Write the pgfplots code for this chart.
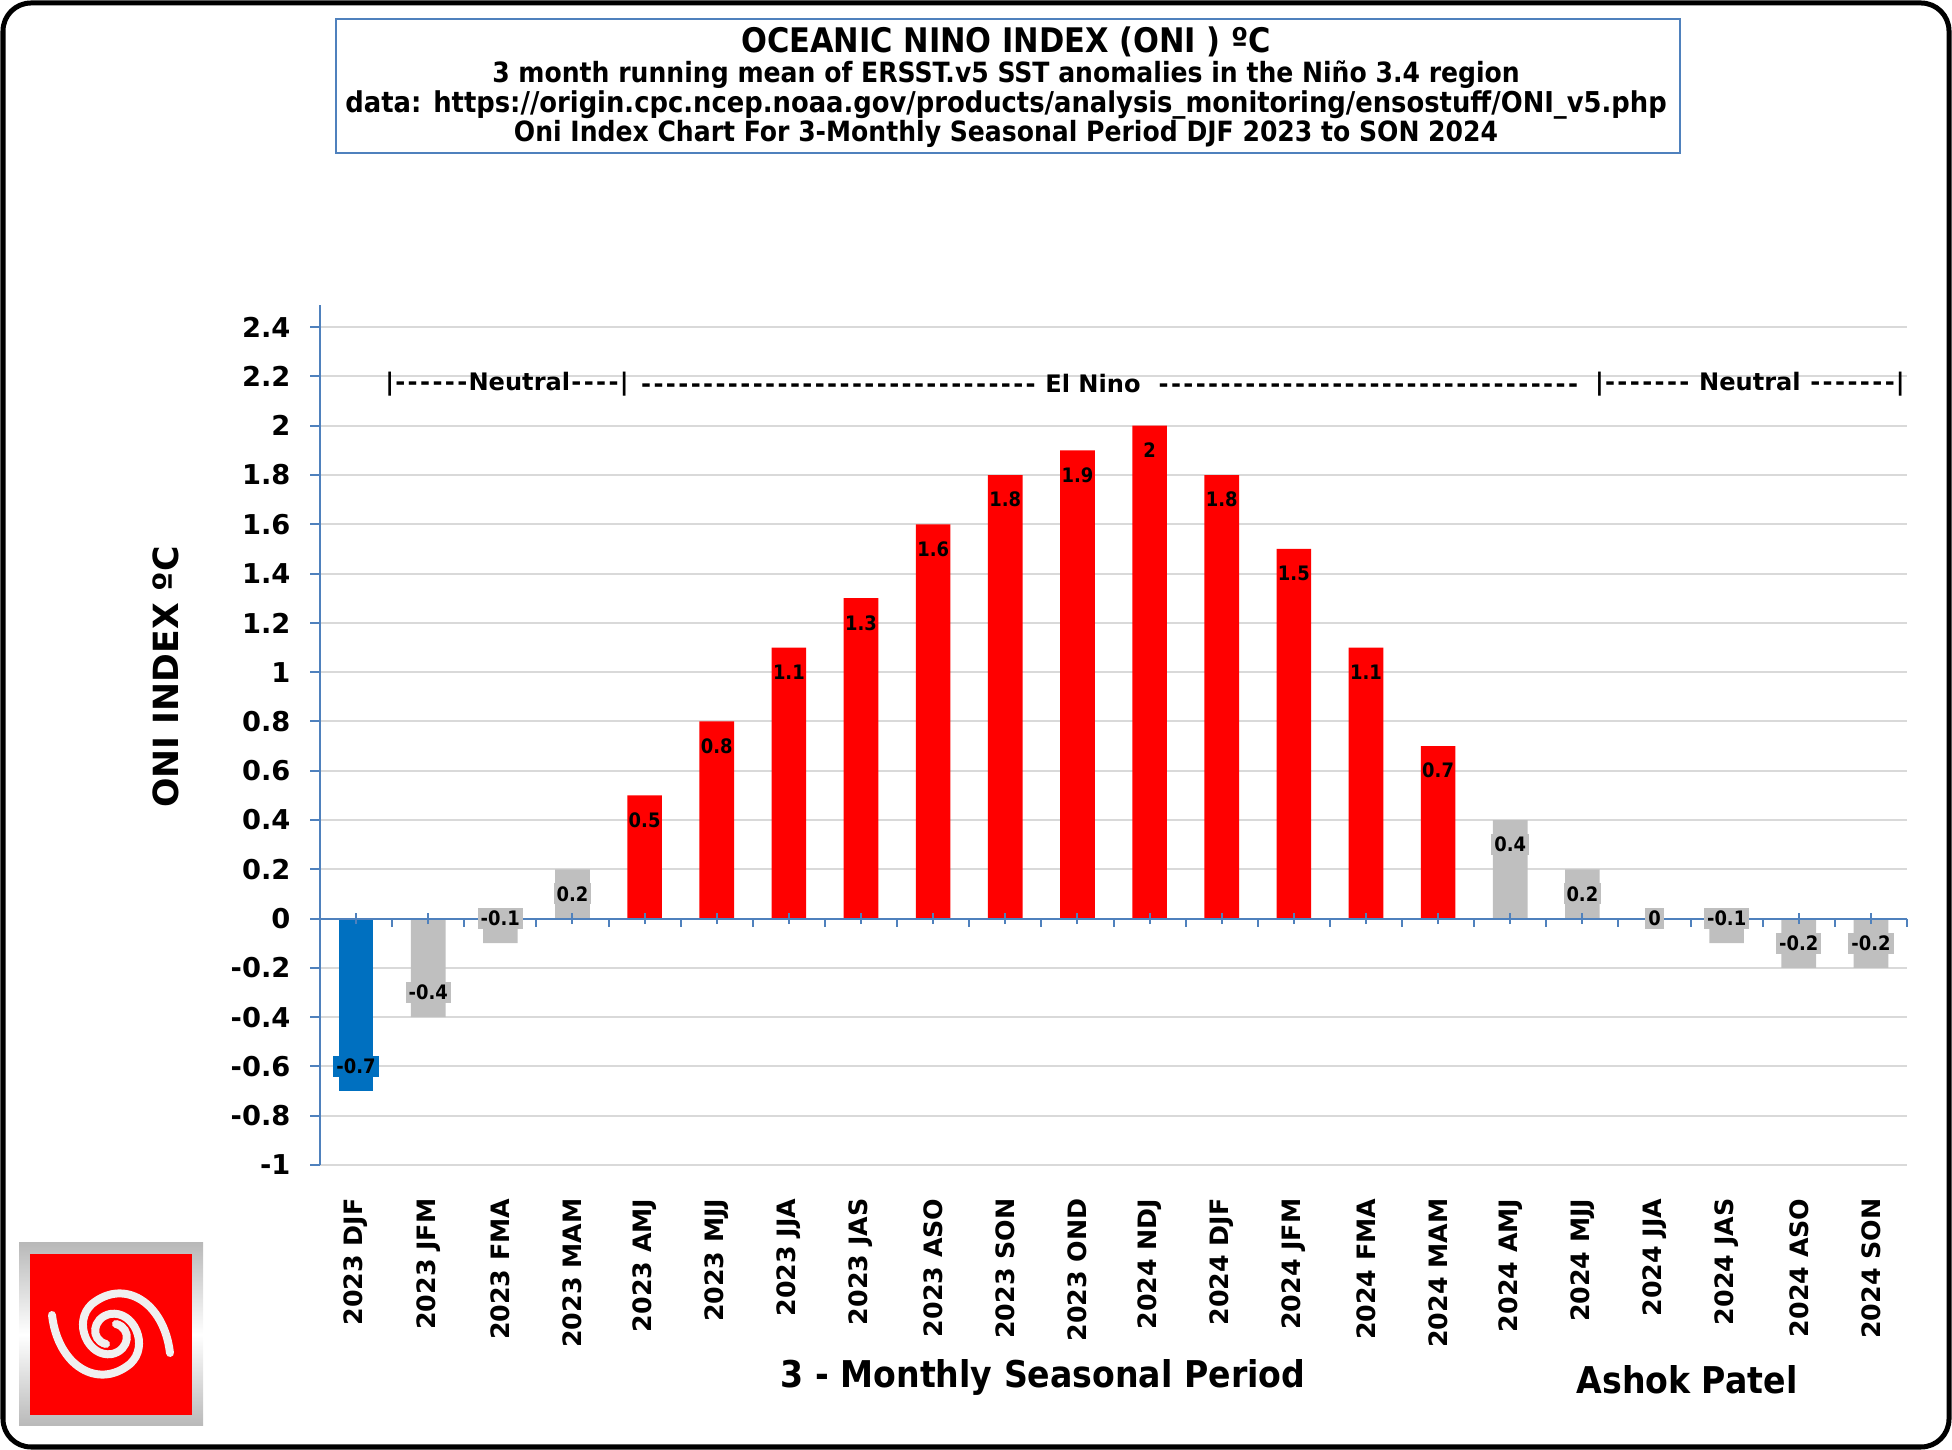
\documentclass[border=0pt]{standalone}
\usepackage{pgfplots}
\pgfplotsset{compat=1.18}
\usepackage{fontspec}
\setmainfont{DejaVu Sans}[Ligatures=TeXOff]
\newfontfamily\cond{DejaVu Sans Condensed}[Ligatures=TeXOff]

\definecolor{oniblue}{RGB}{0,112,192}
\definecolor{onired}{RGB}{255,0,0}
\definecolor{onigrey}{RGB}{191,191,191}
\definecolor{axblue}{RGB}{79,129,189}
\definecolor{gridgrey}{RGB}{217,217,217}

% hyphens with a little air, so the dashed run has Verdana's pitch
\newcommand\dashes[1]{\foreach \k in {1,...,#1}{\kern0.6bp-\kern0.6bp}}

\begin{document}
\begin{tikzpicture}
\useasboundingbox (0,0) rectangle (976bp,725bp);
\draw[line width=2.5bp, rounded corners=14bp] (1.5bp,1.5bp) rectangle (974.5bp,723.5bp);

% title box
\draw[axblue, line width=1bp] (168bp,648.5bp) rectangle (840bp,715.5bp);
\node[font=\cond\bfseries\fontsize{17}{20}\selectfont] at (503bp,704bp) {OCEANIC NINO INDEX (ONI ) ºC};
\node[font=\cond\bfseries\fontsize{14}{16}\selectfont] at (503bp,687.5bp) {3 month running mean of ERSST.v5 SST anomalies in the Niño 3.4 region};
\node[font=\cond\bfseries\fontsize{14.4}{16}\selectfont] at (503bp,672.5bp) {data: https://origin.cpc.ncep.noaa.gov/products/analysis\_monitoring/ensostuff/ONI\_v5.php};
\node[font=\cond\bfseries\fontsize{14}{16}\selectfont] at (503bp,658bp) {Oni Index Chart For 3-Monthly Seasonal Period DJF 2023 to SON 2024};

% axis titles and credit
\node[rotate=90, font=\bfseries\fontsize{17.4}{20}\selectfont] at (83bp,386.5bp) {ONI INDEX ºC};
\node[font=\cond\bfseries\fontsize{18.5}{22}\selectfont] at (521.5bp,36.5bp) {3 - Monthly Seasonal Period};
\node[font=\cond\bfseries\fontsize{18.5}{22}\selectfont] at (843.5bp,35bp) {Ashok Patel};

% logo
\begin{scope}[x=1bp,y=1bp]
\shade[top color=gray!55, bottom color=gray!55, middle color=white] (9.5,12) rectangle (101.5,103.5);
\fill[onired] (15,17.5) rectangle (96,98);
\draw[line width=4, gray!12, line cap=round] (85,48.5) .. controls (82,74) and (62,86) .. (46,73) .. controls (36,64) and (44,46) .. (56,48) .. controls (65,50) and (66,61) .. (58,63);
\draw[line width=4, gray!12, line cap=round] (26,67.5) .. controls (29,42) and (49,30) .. (65,43) .. controls (75,52) and (67,70) .. (55,68) .. controls (46,66) and (45,55) .. (53,53);
\end{scope}

\begin{axis}[
  at={(160bp,142.5bp)}, anchor=south west,
  scale only axis, width=793.5bp, height=430bp,
  xmin=-0.5, xmax=21.5, ymin=-1, ymax=2.49,
  axis y line*=left, axis x line*=bottom,
  x axis line style={draw=none},
  y axis line style={axblue, line width=1bp},
  xtick={0,...,21},
  xticklabels={2023 DJF,2023 JFM,2023 FMA,2023 MAM,2023 AMJ,2023 MJJ,2023 JJA,2023 JAS,2023 ASO,2023 SON,2023 OND,2024 NDJ,2024 DJF,2024 JFM,2024 FMA,2024 MAM,2024 AMJ,2024 MJJ,2024 JJA,2024 JAS,2024 ASO,2024 SON},
  xtick style={draw=none},
  xticklabel style={yshift=-8.5bp, rotate=90, anchor=east, font=\bfseries\fontsize{12.7}{15}\selectfont},
  ytick={-1,-0.8,-0.6,-0.4,-0.2,0,0.2,0.4,0.6,0.8,1,1.2,1.4,1.6,1.8,2,2.2,2.4},
  ytick style={axblue, line width=1bp},
  tick align=outside, major tick length=4.8bp,
  yticklabel style={font=\bfseries\fontsize{13.7}{16}\selectfont, xshift=-6.5bp},
  ymajorgrids, major grid style={gridgrey, line width=1bp},
  /pgf/number format/.cd, fixed, precision=1, assume math mode=true,
  /pgfplots/.cd,
  ybar, bar width=0.48, bar shift=0,
  clip=false,
]
\addplot[fill=oniblue, draw=none] coordinates {(0,-0.7)};
\addplot[fill=onigrey, draw=none] coordinates {(1,-0.4)(2,-0.1)(3,0.2)(16,0.4)(17,0.2)(18,0)(19,-0.1)(20,-0.2)(21,-0.2)};
\addplot[fill=onired, draw=none] coordinates {(4,0.5)(5,0.8)(6,1.1)(7,1.3)(8,1.6)(9,1.8)(10,1.9)(11,2)(12,1.8)(13,1.5)(14,1.1)(15,0.7)};

% zero line with Excel-like ticks
\draw[axblue, line width=1bp] (axis cs:-0.5,0) -- (axis cs:21.5,0);
\pgfplotsinvokeforeach{-0.5,0.5,...,21.5}{\draw[axblue, line width=1bp] (axis cs:#1,0) -- ([yshift=-4.3bp]axis cs:#1,0);}
\pgfplotsinvokeforeach{0,...,21}{\draw[axblue, line width=1bp] ([yshift=-2.8bp]axis cs:#1,0) -- ([yshift=2.8bp]axis cs:#1,0);}

% data labels
\pgfplotsset{lbl/.style={draw=none, mark=none, nodes near coords,
  visualization depends on={rawy \as \rawy},
  every node near coord/.append style={anchor=center, inner sep=1.5bp, text=black,
    font=\cond\bfseries\fontsize{10}{12}\selectfont,
    yshift={ifthenelse(\rawy>0,-12.3,ifthenelse(\rawy<0,12.3,0))*1bp}}}}
\addplot[lbl, every node near coord/.append style={fill=oniblue}] coordinates {(0,-0.7)};
\addplot[lbl, every node near coord/.append style={fill=onigrey}] coordinates {(1,-0.4)(2,-0.1)(3,0.2)(16,0.4)(17,0.2)(18,0)(19,-0.1)(20,-0.2)(21,-0.2)};
\addplot[lbl] coordinates {(4,0.5)(5,0.8)(6,1.1)(7,1.3)(8,1.6)(9,1.8)(10,1.9)(11,2)(12,1.8)(13,1.5)(14,1.1)(15,0.7)};

% regime annotation
\node[anchor=west, font=\bfseries\fontsize{12.1}{14}\selectfont, inner sep=0] at (axis cs:0.4,2.17) {|\dashes{6}Neutral\dashes{4}|};
\node[anchor=west, font=\bfseries\fontsize{12.1}{14}\selectfont, inner sep=0] at (axis cs:3.93,2.17) {\dashes{32} El Nino~~\dashes{34}};
\node[anchor=west, font=\bfseries\fontsize{12.1}{14}\selectfont, inner sep=0] at (axis cs:17.17,2.17) {|\dashes{7} Neutral \dashes{7}|};
\end{axis}
\end{tikzpicture}
\end{document}
